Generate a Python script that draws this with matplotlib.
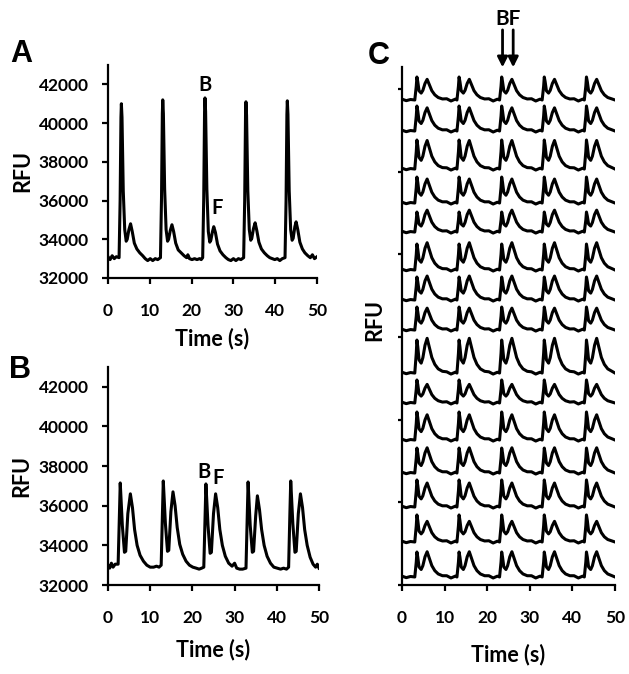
import numpy as np
import matplotlib.pyplot as plt

plt.rcParams['font.family'] = ['Lato', 'DejaVu Sans']
plt.rcParams['font.weight'] = 'bold'

# panel A : one trace (time s, RFU)
a_time = [0, 0.5, 1.0, 1.5, 2.0,
          2.65, 2.9, 3.1, 3.2, 3.35, 3.65, 4.0, 4.35, 4.6, 5.0, 5.4, 5.8, 6.3, 6.9, 7.6, 8.3,
          8.9, 9.5, 10.1, 10.7, 11.3, 11.9,
          12.55, 12.8, 13.0, 13.1, 13.25, 13.55, 13.9, 14.25, 14.5, 14.9, 15.3, 15.7, 16.2, 16.8, 17.5, 18.2,
          18.8, 19.1, 19.5, 20.1, 20.7, 21.3, 21.9, 22.3,
          22.65, 22.9, 23.1, 23.2, 23.35, 23.65, 24.0, 24.35, 24.6, 25.0, 25.3, 25.7, 26.2, 26.8, 27.5, 28.2,
          28.8, 29.4, 30.0, 30.6, 31.2, 31.8,
          32.45, 32.7, 32.9, 33.0, 33.15, 33.45, 33.8, 34.15, 34.4, 34.8, 35.2, 35.6, 36.1, 36.7, 37.4, 38.1,
          38.7, 39.3, 39.9, 40.5, 41.1, 41.7,
          42.35, 42.6, 42.8, 42.9, 43.05, 43.35, 43.7, 44.05, 44.3, 44.7, 45.0, 45.4, 45.9, 46.5, 47.1, 47.8,
          48.4, 48.9, 49.4, 50.0]
a_rfu = [33100, 32950, 33150, 33000, 33100,
         33050, 36000, 40300, 41000, 40300, 36500, 34500, 33900, 34000, 34500, 34800, 34400, 33800, 33500, 33300, 33150,
         33000, 32900, 33000, 32900, 33000, 32950,
         33050, 36100, 40500, 41200, 40500, 36600, 34500, 33900, 34000, 34450, 34750, 34400, 33800, 33450, 33300, 33150,
         33050, 33200, 33000, 32950, 33000, 32950, 33000, 32950,
         33050, 36100, 40600, 41300, 40600, 36600, 34400, 33850, 33950, 34400, 34650, 34350, 33750, 33400, 33200, 33050,
         32950, 32900, 33000, 32900, 33000, 32950,
         33050, 36000, 40400, 41100, 40400, 36500, 34500, 33950, 34050, 34550, 34850, 34450, 33850, 33500, 33300, 33150,
         33050, 33000, 32950, 33000, 32900, 33000,
         33050, 36000, 40450, 41150, 40450, 36500, 34500, 33950, 34050, 34650, 34900, 34500, 33850, 33500, 33300, 33150,
         33050, 33200, 33000, 33100]

# panel B
b_time = [0, 0.4, 0.8, 1.2, 1.7,
          2.4, 2.7, 2.9, 3.1, 3.4, 3.9, 4.2, 4.7, 5.3, 5.8, 6.3, 6.9, 7.6, 8.4,
          9.2, 10.0, 10.8, 11.5, 12.1,
          12.6, 12.9, 13.1, 13.3, 13.6, 14.1, 14.4, 14.9, 15.4, 15.9, 16.4, 17.0, 17.7, 18.5,
          19.3, 20.1, 20.9, 21.6, 22.2,
          22.7, 23.0, 23.2, 23.4, 23.7, 24.2, 24.5, 25.0, 25.5, 26.0, 26.5, 27.1, 27.8, 28.6,
          29.4, 30.0, 30.5, 31.2, 31.9,
          32.7, 33.0, 33.2, 33.4, 33.7, 34.2, 34.5, 35.0, 35.4, 35.9, 36.4, 37.0, 37.7, 38.5,
          39.3, 40.1, 40.9, 41.6, 42.3,
          42.8, 43.1, 43.3, 43.5, 43.8, 44.3, 44.6, 45.1, 45.6, 46.1, 46.6, 47.2, 47.9, 48.6,
          49.2, 49.6, 50.0]
b_rfu = [33000, 32850, 33100, 32900, 33050,
         33050, 35500, 37150, 36300, 35000, 33650, 33700, 35600, 36600, 35900, 34800, 34000, 33500, 33200,
         33000, 32900, 32900, 32950, 32900,
         33000, 35600, 37250, 36400, 35100, 33700, 33750, 35700, 36700, 36000, 34900, 34050, 33550, 33200,
         33000, 32900, 32850, 32800, 32850,
         32900, 35400, 37100, 36300, 35000, 33600, 33650, 35600, 36600, 35900, 34800, 34000, 33450, 33100,
         32950, 33100, 32850, 32800, 32800,
         32850, 35500, 37200, 36300, 35000, 33650, 33700, 35500, 36500, 35800, 34800, 34000, 33450, 33100,
         32900, 32850, 32800, 32850, 32800,
         32900, 35600, 37250, 36400, 35100, 33650, 33700, 35600, 36600, 35900, 34800, 34000, 33400, 33050,
         32900, 33050, 32850]

# panel C : 15 stacked traces, top to bottom
c_offset = [58650, 54900, 50300, 46190, 42680, 38090, 34460, 30830,
            25630, 22010, 17530, 13540, 9430, 5200, 970]
c_bpeak = [2780, 3020, 3510, 3140, 2420, 3140, 2780, 2780,
           3990, 2780, 3390, 3020, 3270, 3270, 3020]
c_fpeak = [2500, 2800, 3450, 2900, 2650, 3300, 2900, 2650,
           4200, 2250, 3050, 3050, 2900, 2500, 3050]
c_beats = [3.5, 13.4, 23.4, 33.4, 43.3]
# one beat: time from B peak, part of B, part of F
c_dt = [-0.5, -0.15, 0, 0.2, 0.5, 1.0, 1.4, 1.9, 2.4, 2.9, 3.5, 4.2, 5.0, 6.0, 7.0, 8.0, 9.0]
c_bpart = [0, 0.6, 1, 0.8, 0.4, 0.3, 0.15, 0, 0, 0, 0, 0, 0, 0, 0, 0, 0]
c_fpart = [0, 0, 0, 0, 0, 0, 0.3, 0.8, 1, 0.75, 0.45, 0.25, 0.12, 0.05, 0, 0, 0]
c_wiggle = [0, 0, 0, 0, 0, 0, 0, 0, 0, 0, 0, 0, 0, 0, 150, -120, 100]

lw = 2.2


def style(ax, ylen=4):
    for s in ['top', 'right']:
        ax.spines[s].set_visible(False)
    for s in ['left', 'bottom']:
        ax.spines[s].set_linewidth(1.6)
    ax.tick_params(axis='x', length=4, width=1.6, pad=14, labelsize=12.5)
    ax.tick_params(axis='y', length=ylen, width=1.6, pad=10, labelsize=12.5)
    ax.set_xlim(0, 50)
    ax.set_xticks(range(0, 51, 10))


fig = plt.figure(figsize=(6.29, 6.74), dpi=100)

axA = fig.add_axes([108/629, 1-278/674, 209/629, 213/674])
axA.plot(a_time, a_rfu, color='black', lw=lw)
style(axA)
axA.set_ylim(32000, 43000)
axA.set_yticks(range(32000, 42001, 2000))
axA.text(23.2, 41950, 'B', ha='center', va='center', fontsize=14.5)
axA.text(26.1, 35600, 'F', ha='center', va='center', fontsize=14.5)
axA.text(-0.41, 0.5, 'RFU', rotation=90, ha='center', va='center',
         fontsize=15.5, transform=axA.transAxes)
axA.text(0.5, -0.282, 'Time (s)', ha='center', va='center',
         fontsize=15.5, transform=axA.transAxes)

axB = fig.add_axes([108/629, 1-585/674, 211/629, 218/674])
axB.plot(b_time, b_rfu, color='black', lw=lw)
style(axB)
axB.set_ylim(32000, 43000)
axB.set_yticks(range(32000, 42001, 2000))
axB.text(22.7, 37720, 'B', ha='center', va='center', fontsize=14.5)
axB.text(26.1, 37390, 'F', ha='center', va='center', fontsize=14.5)
axB.text(-0.407, 0.5, 'RFU', rotation=90, ha='center', va='center',
         fontsize=15.5, transform=axB.transAxes)
axB.text(0.5, -0.298, 'Time (s)', ha='center', va='center',
         fontsize=15.5, transform=axB.transAxes)

axC = fig.add_axes([402/629, 1-585/674, 213/629, 518/674])
for off, bh, fh in zip(c_offset, c_bpeak, c_fpeak):
    t = [0, 1.0, 2.0]
    v = [off + 100, off - 80, off + 60]
    for tb in c_beats:
        for dt, fb, ff, w in zip(c_dt, c_bpart, c_fpart, c_wiggle):
            if tb + dt < 50:
                t.append(tb + dt)
                v.append(off + bh * fb + fh * ff + w)
    t.append(50)
    v.append(off)
    axC.plot(t, v, color='black', lw=lw)
style(axC, ylen=3)
axC.set_ylim(0, 62640)
axC.set_yticks(range(0, 60001, 10000))
axC.set_yticklabels([])
axC.text(-0.127, 0.512, 'RFU', rotation=90, ha='center', va='center',
         fontsize=15.5, transform=axC.transAxes)
axC.text(0.5, -0.135, 'Time (s)', ha='center', va='center',
         fontsize=15.5, transform=axC.transAxes)
tr = axC.get_xaxis_transform()
for xa in [23.6, 26.1]:
    axC.annotate('', xy=(xa, 0.994), xycoords=tr, xytext=(xa, 1.077), textcoords=tr,
                 arrowprops=dict(arrowstyle='-|>,head_length=0.6,head_width=0.3',
                                 color='black', lw=2))
axC.text(24.85, 1.093, 'BF', ha='center', va='center', fontsize=15, transform=tr)

fig.text(21/629, 1-54/674, 'A', ha='center', va='center', fontsize=22,
         family='Liberation Sans')
fig.text(20/629, 1-370/674, 'B', ha='center', va='center', fontsize=22,
         family='Liberation Sans')
fig.text(379/629, 1-56/674, 'C', ha='center', va='center', fontsize=22,
         family='Liberation Sans')

fig.savefig('out.png', dpi=100)
